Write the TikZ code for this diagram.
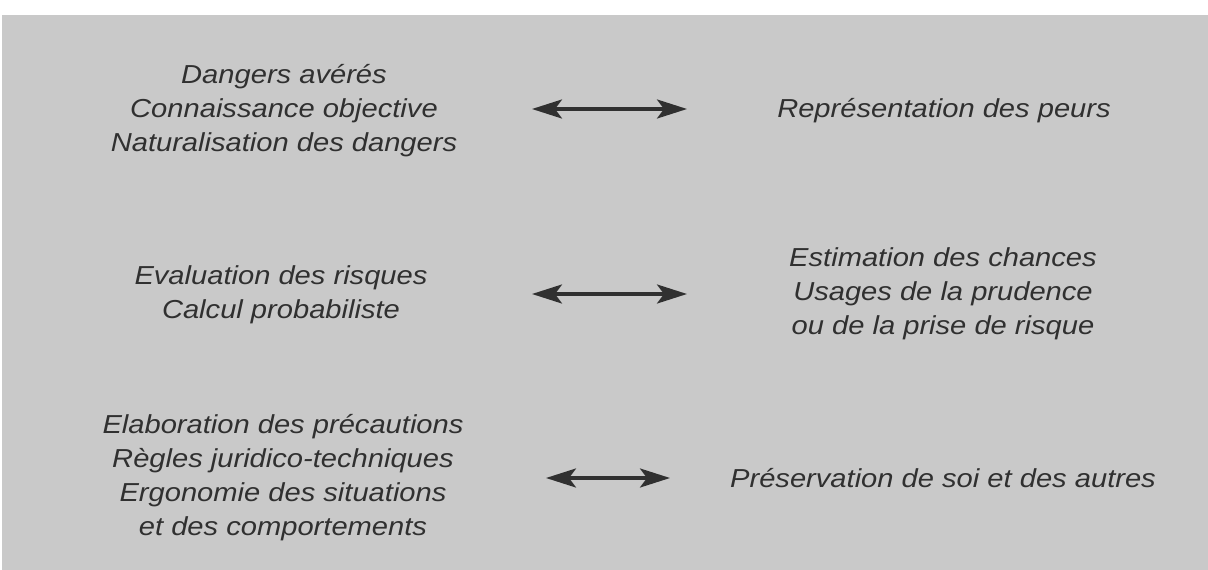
\documentclass[tikz,border=0pt]{standalone}
\usepackage{fontspec}
\setmainfont{Liberation Sans}[FakeStretch=1.12]
\usetikzlibrary{arrows.meta}
\tikzset{>={Stealth[length=30pt,width=19pt,inset=7pt]}}
\definecolor{paper}{RGB}{201,201,201}
\definecolor{ink}{RGB}{48,48,48}
\tikzset{%
  risktext/.style={align=center, text=ink, inner sep=0pt, anchor=base,
    font=\fontsize{26}{34}\selectfont\itshape},
  twoway/.style={<->, draw=ink, line width=3.3pt}
}

\begin{document}
\begin{tikzpicture}[x=1pt,y=-1pt]

  % page size and grey panel
  \useasboundingbox (0,0) rectangle (1208,570);
  \fill[paper] (2,15) rectangle (1208,570);

  % left column (base = baseline of the last line)
  \node[risktext] (dangers) at (284,151) {Dangers avérés\\Connaissance objective\\Naturalisation des dangers};
  \node[risktext] (risques) at (281,318) {Evaluation des risques\\Calcul probabiliste};
  \node[risktext] (precautions) at (283,535) {Elaboration des précautions\\Règles juridico-techniques\\Ergonomie des situations\\et des comportements};

  % right column
  \node[risktext] (peurs) at (944,117) {Représentation des peurs};
  \node[risktext] (chances) at (943,334) {Estimation des chances\\Usages de la prudence\\ou de la prise de risque};
  \node[risktext] (preservation) at (943,487) {Préservation de soi et des autres};

  % end points of the arrows
  \coordinate (a1) at (532,109);
  \coordinate (b1) at (687,109);
  \coordinate (a2) at (532,294);
  \coordinate (b2) at (687,294);
  \coordinate (a3) at (546,478);
  \coordinate (b3) at (670,478);

  % double arrows between the two columns
  \draw[twoway] (a1) -- (b1);
  \draw[twoway] (a2) -- (b2);
  \draw[twoway] (a3) -- (b3);

\end{tikzpicture}
\end{document}
